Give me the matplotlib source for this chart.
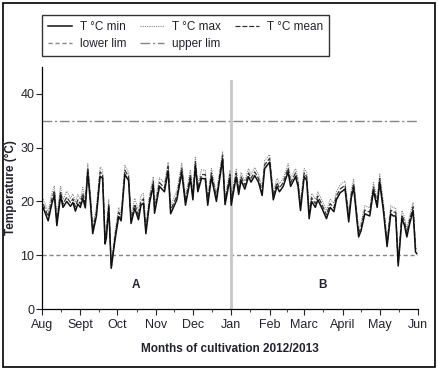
import matplotlib
matplotlib.use("Agg")
import matplotlib.pyplot as plt
from matplotlib.patches import Rectangle
from matplotlib.ticker import FixedLocator

plt.rcParams['font.family'] = ['Liberation Sans Narrow', 'Liberation Sans', 'DejaVu Sans']

# day index counted from 1 Aug 2012
days = [1, 5, 8, 10, 12, 15, 17, 20, 23, 25,
        27, 29, 31, 33, 35, 37, 39, 41, 44, 47,
        49, 51, 52, 54, 56, 59, 62, 64, 67, 70,
        72, 75, 78, 80, 82, 84, 87, 90, 91, 95,
        99, 102, 104, 109, 113, 116, 120, 122, 124, 126,
        129, 132, 134, 137, 141, 146, 148, 152, 153, 157,
        159, 161, 164, 167, 169, 172, 175, 178, 180, 184,
        187, 190, 192, 195, 199, 201, 205, 207, 209, 212,
        214, 216, 218, 221, 223, 226, 230, 233, 236, 238,
        241, 245, 248, 250, 252, 256, 258, 261, 265, 268,
        271, 273, 276, 279, 282, 284, 286, 288, 291, 293,
        295, 297, 300, 302, 303]

t_mean = [19.5, 17.2, 20.5, 22.0, 16.2, 21.8, 19.5, 20.8, 19.8, 20.5,
          19.0, 20.3, 19.5, 21.5, 19.5, 26.2, 21.0, 14.7, 18.0, 25.5,
          25.0, 12.8, 14.0, 19.5, 7.6, 13.5, 18.0, 17.0, 25.8, 24.6,
          16.5, 19.5, 17.3, 20.0, 20.5, 14.7, 20.5, 23.7, 18.5, 23.5,
          22.5, 26.5, 18.4, 21.0, 26.2, 20.0, 25.0, 21.0, 27.4, 22.5,
          25.0, 25.0, 20.0, 25.3, 20.7, 28.6, 20.0, 25.0, 20.0, 25.3,
          22.0, 24.6, 23.0, 25.3, 24.3, 25.5, 24.3, 21.8, 26.8, 28.0,
          21.0, 23.5, 22.5, 23.5, 26.2, 23.5, 25.3, 23.5, 19.0, 25.3,
          24.6, 17.5, 20.7, 19.6, 21.0, 19.6, 17.5, 19.6, 18.8, 21.0,
          22.3, 23.0, 16.9, 21.3, 23.3, 14.1, 15.3, 18.4, 18.0, 22.7,
          19.6, 24.3, 19.0, 12.3, 18.4, 18.0, 18.0, 8.5, 17.5, 16.3,
          14.1, 16.3, 19.0, 11.3, 11.0]

t_min = [18.8, 16.4, 19.6, 21.2, 15.5, 21.0, 18.9, 20.0, 19.1, 19.8,
         18.2, 19.5, 18.9, 20.6, 18.8, 25.4, 20.2, 14.0, 17.3, 24.7,
         24.3, 12.1, 13.2, 18.8, 7.6, 12.8, 17.2, 16.4, 25.0, 23.9,
         15.9, 18.7, 16.6, 19.3, 19.7, 14.0, 19.8, 22.9, 17.8, 22.8,
         21.8, 25.7, 17.7, 20.3, 25.4, 19.3, 24.2, 20.3, 26.6, 21.8,
         24.3, 24.2, 19.3, 24.5, 20.0, 27.9, 19.4, 24.3, 19.3, 24.6,
         21.3, 23.9, 22.3, 24.6, 23.6, 24.8, 23.6, 21.1, 26.1, 27.3,
         20.3, 22.8, 21.8, 22.8, 25.5, 22.8, 24.6, 22.8, 18.3, 24.6,
         23.9, 16.8, 20.0, 18.9, 20.3, 18.9, 16.8, 18.9, 18.1, 20.3,
         21.6, 22.3, 16.2, 20.6, 22.6, 13.4, 14.6, 17.7, 17.3, 22.0,
         18.9, 23.6, 18.3, 11.6, 17.7, 17.3, 17.3, 8.0, 16.8, 15.6,
         13.4, 15.6, 18.3, 10.6, 10.3]

t_max = [20.4, 18.1, 21.6, 22.9, 17.0, 22.8, 20.3, 21.9, 20.6, 21.4,
         19.8, 21.3, 20.4, 22.6, 20.3, 27.0, 21.9, 15.5, 18.9, 26.4,
         25.8, 13.6, 14.9, 20.3, 8.4, 14.3, 18.9, 17.8, 26.7, 25.4,
         17.3, 20.6, 18.2, 21.1, 21.5, 15.4, 21.3, 24.6, 19.3, 24.4,
         23.4, 27.3, 19.2, 22.0, 27.1, 20.9, 25.9, 21.8, 28.2, 23.4,
         25.9, 25.8, 20.8, 26.1, 21.5, 29.2, 20.8, 25.8, 20.7, 26.0,
         22.8, 25.4, 23.8, 26.1, 25.1, 26.3, 25.1, 22.6, 27.6, 28.7,
         21.8, 24.3, 23.3, 24.3, 27.0, 24.3, 26.1, 24.3, 19.9, 26.1,
         25.4, 18.4, 21.5, 20.4, 21.8, 20.4, 18.3, 20.4, 19.6, 21.8,
         23.1, 23.8, 17.7, 22.1, 24.1, 14.9, 16.1, 19.2, 18.8, 23.5,
         20.4, 25.1, 19.8, 13.1, 19.2, 18.8, 18.8, 9.3, 18.3, 17.1,
         14.9, 17.1, 19.8, 12.1, 11.8]

lower_lim = 10
upper_lim = 35
month_start = [0, 31, 61, 92, 122, 153, 184, 212, 243, 273, 304]
month_names = ['Aug', 'Sept', 'Oct', 'Nov', 'Dec', 'Jan', 'Feb', 'Marc',
               'April', 'May', 'Jun']
period_x = [76, 227]
period_names = ['A', 'B']
txt = '#22222e'

fig = plt.figure(figsize=(4.38, 3.70), dpi=100)
ax = fig.add_axes([42/438, 61/370, 376/438, 242/370])

l_lo, = ax.plot([month_start[0], month_start[-1]], [lower_lim, lower_lim],
                ls=(0, (3, 2)), color='#858585', lw=1.0)
l_up, = ax.plot([month_start[0], month_start[-1]], [upper_lim, upper_lim],
                ls=(0, (7, 2, 1.5, 2)), color='#858585', lw=1.0)
ax.plot([month_start[5], month_start[5]], [0, 42.4], color='#c8c8c8', lw=2)

l_max, = ax.plot(days, t_max, ls=(0, (1, 1)), color='#888888', lw=0.8)
l_mean, = ax.plot(days, t_mean, ls=(0, (4, 1.5)), color='#333333', lw=0.9)
l_min, = ax.plot(days, t_min, ls='-', color='#111111', lw=1.1)

for x, s in zip(period_x, period_names):
    ax.text(x, 4.5, s, ha='center', va='center', fontsize=8.5,
            fontweight='bold', color=txt)

ax.set_xlim(month_start[0], month_start[-1])
ax.set_ylim(0, 45)
ax.set_xticks(month_start)
ax.set_xticklabels(month_names)
mids = [(a + b) / 2 for a, b in zip(month_start[:-1], month_start[1:])]
ax.xaxis.set_minor_locator(FixedLocator(mids))
ax.set_yticks([0, 10, 20, 30, 40])
ax.tick_params(axis='both', labelsize=9, colors=txt, length=4, width=0.8,
               direction='out')
ax.tick_params(axis='y', pad=1.5)
ax.tick_params(axis='x', which='minor', length=2, width=0.6, colors=txt)
for s in ['top', 'right']:
    ax.spines[s].set_visible(False)
for s in ['left', 'bottom']:
    ax.spines[s].set_linewidth(0.9)
ax.set_ylabel('Temperature (°C)', fontsize=8.5, fontweight='bold', color=txt)
ax.yaxis.set_label_coords(-0.066, 0.5)
ax.set_xlabel('Months of cultivation 2012/2013', fontsize=8.5,
              fontweight='bold', color=txt, labelpad=8)

leg = fig.legend([l_min, l_lo, l_max, l_up, l_mean],
                 ['T °C min', 'lower lim', 'T °C max', 'upper lim', 'T °C mean'],
                 ncol=3, loc='upper left', bbox_to_anchor=(42/438, 1 - 15/370),
                 fontsize=8.5, frameon=True, fancybox=False, edgecolor='black',
                 borderpad=0.5, handlelength=2.0, columnspacing=1.2,
                 labelspacing=0.45, handletextpad=0.7, borderaxespad=0)
leg.get_frame().set_linewidth(1.0)
for t in leg.get_texts():
    t.set_color(txt)

fig.patches.append(Rectangle((3/438, 3/370), 432/438, 364/370,
                             transform=fig.transFigure, fill=False,
                             lw=1.2, ec='black'))

fig.savefig('out.png', dpi=100)
